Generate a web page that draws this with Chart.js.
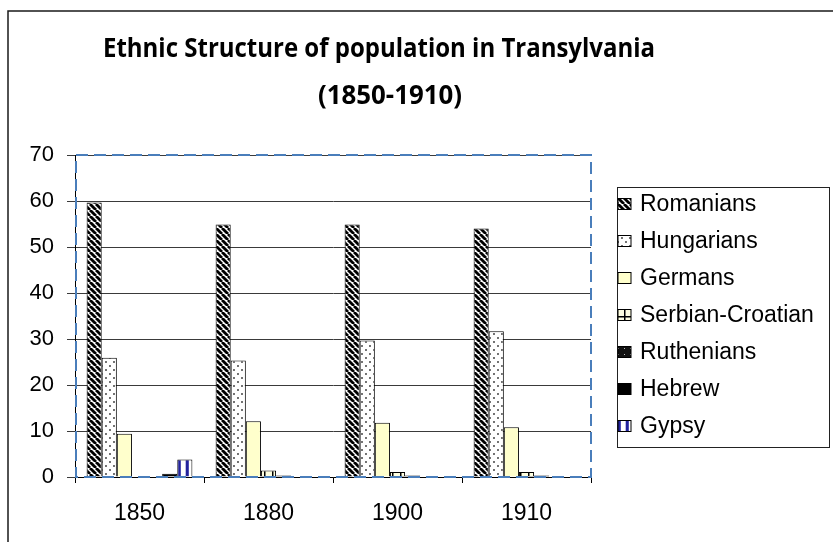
<!DOCTYPE html>
<html>
<head>
<meta charset="utf-8">
<script src="https://cdn.jsdelivr.net/npm/chart.js@4.4.1/dist/chart.umd.min.js"></script>
<style>
  html, body { margin: 0; padding: 0; background: #fff; overflow: hidden; }
  #wrap { position: relative; width: 833px; height: 542px; }
</style>
</head>
<body>
<div id="wrap"><canvas id="ethnicChart"></canvas></div>
<script>
// Data (percent of population)
const years = ['1850', '1880', '1900', '1910'];
const romanians = [59.7, 54.9, 54.9, 54.0];
const hungarians = [25.9, 25.3, 29.7, 31.7];
const germans = [9.4, 12.1, 11.8, 10.8];
const serbianCroatian = [0, 1.4, 1.1, 1.1];
const ruthenians = [0, 0.3, 0.3, 0.3];
const hebrew = [0.7, 0, 0, 0];
const gypsy = [3.8, 0, 0, 0];
const seriesNames = ['Romanians', 'Hungarians', 'Germans', 'Serbian-Croatian', 'Ruthenians', 'Hebrew', 'Gypsy'];
const titleLines = ['Ethnic Structure of population in Transylvania', '(1850-1910)'];
const yMax = 70;
const yStep = 10;

// Small tile patterns, like the old Excel fills
function makePattern(w, h, draw) {
  const c = document.createElement('canvas');
  c.width = w;
  c.height = h;
  const g = c.getContext('2d');
  draw(g, w, h);
  return g.createPattern(c, 'repeat');
}

const stripePattern = makePattern(6, 6, (g, w, h) => {
  g.fillStyle = '#fff';
  g.fillRect(0, 0, w, h);
  g.strokeStyle = '#000';
  g.lineWidth = 2.8;
  [-6, 0, 6].forEach(k => {
    g.beginPath();
    g.moveTo(k, 0);
    g.lineTo(k + 6, 6);
    g.stroke();
  });
});

const dotPattern = makePattern(8, 8, (g, w, h) => {
  g.fillStyle = '#fff';
  g.fillRect(0, 0, w, h);
  g.fillStyle = '#444';
  g.beginPath();
  g.arc(2, 2, 1, 0, Math.PI * 2);
  g.arc(6, 6, 1, 0, Math.PI * 2);
  g.fill();
});

const gridPattern = makePattern(8, 8, (g, w, h) => {
  g.fillStyle = '#ffffe0';
  g.fillRect(0, 0, w, h);
  g.fillStyle = '#000';
  g.fillRect(0, 0, 1.5, h);
  g.fillRect(0, 4, w, 1.5);
});

const darkPattern = makePattern(6, 6, (g, w, h) => {
  g.fillStyle = '#111';
  g.fillRect(0, 0, w, h);
  g.fillStyle = '#bbb';
  g.fillRect(0, 0, 1, 1);
});

const blueStripePattern = makePattern(8, 8, (g, w, h) => {
  g.fillStyle = '#fff';
  g.fillRect(0, 0, w, h);
  g.fillStyle = '#7a7acc';
  g.fillRect(1.5, 0, 3.5, h);
  g.fillStyle = '#22229c';
  g.fillRect(2, 0, 2.5, h);
});

const fills = [stripePattern, dotPattern, '#ffffcc', gridPattern, darkPattern, '#000', blueStripePattern];
const values = [romanians, hungarians, germans, serbianCroatian, ruthenians, hebrew, gypsy];

// Outer frame of the chart object (its right and bottom sides are cut off)
const framePlugin = {
  id: 'frame',
  beforeDraw(chart) {
    const ctx = chart.ctx;
    ctx.save();
    ctx.fillStyle = '#fff';
    ctx.fillRect(0, 0, chart.width, chart.height);
    ctx.strokeStyle = '#1a1a1a';
    ctx.lineWidth = 1.5;
    ctx.beginPath();
    ctx.moveTo(8, chart.height);
    ctx.lineTo(8, 11);
    ctx.lineTo(chart.width, 11);
    ctx.stroke();
    ctx.restore();
  }
};

// Dashed blue plot-area border
const plotBorderPlugin = {
  id: 'plotBorder',
  afterDatasetsDraw(chart) {
    const {ctx, chartArea: a} = chart;
    ctx.save();
    ctx.strokeStyle = '#4a7ebb';
    ctx.lineWidth = 2;
    ctx.setLineDash([12, 6]);
    ctx.strokeRect(a.left + 1, a.top, a.right - a.left - 1, a.bottom - a.top);
    ctx.restore();
  }
};

// Two-line bold title, positioned like the original
const titlePlugin = {
  id: 'titleLines',
  afterDraw(chart) {
    const ctx = chart.ctx;
    const spots = [{cx: 379, y: 57, w: 552}, {cx: 390, y: 104, w: 144}];
    ctx.save();
    ctx.fillStyle = '#000';
    ctx.font = 'bold 27px "Open Sans", "Noto Sans", sans-serif';
    ctx.textBaseline = 'alphabetic';
    ctx.textAlign = 'left';
    titleLines.forEach((line, i) => {
      const s = spots[i];
      const measured = ctx.measureText(line).width;
      const sx = Math.min(1, s.w / measured);
      ctx.save();
      ctx.translate(s.cx - s.w / 2, s.y);
      ctx.scale(sx, 1);
      ctx.fillText(line, 0, 0);
      ctx.restore();
    });
    ctx.restore();
  }
};

// Boxed legend on the right
const legendPlugin = {
  id: 'boxLegend',
  afterDraw(chart) {
    const ctx = chart.ctx;
    const box = {left: 617.5, top: 187.5, right: 829.5, bottom: 447.5};
    ctx.save();
    ctx.strokeStyle = '#222';
    ctx.lineWidth = 1;
    ctx.strokeRect(box.left, box.top, box.right - box.left, box.bottom - box.top);
    ctx.font = '23px "Liberation Sans", Arial, sans-serif';
    ctx.textBaseline = 'middle';
    ctx.textAlign = 'left';
    chart.data.datasets.forEach((ds, i) => {
      const cy = 204 + i * 37;
      ctx.fillStyle = ds.backgroundColor;
      ctx.fillRect(618, cy - 5.5, 13, 11);
      ctx.strokeStyle = '#000';
      ctx.strokeRect(618, cy - 5.5, 13, 11);
      ctx.fillStyle = '#000';
      ctx.fillText(ds.label, 640, cy + 1);
    });
    ctx.restore();
  }
};

const ctx = document.getElementById('ethnicChart').getContext('2d');
new Chart(ctx, {
  type: 'bar',
  data: {
    labels: years,
    datasets: seriesNames.map((name, i) => ({
      label: name,
      data: values[i],
      backgroundColor: fills[i],
      borderColor: '#000',
      borderWidth: 1,
      categoryPercentage: 0.82,
      barPercentage: 1.0
    }))
  },
  options: {
    responsive: true,
    maintainAspectRatio: false,
    animation: false,
    layout: {
      padding: {top: 155, right: 242, bottom: 15, left: 8}
    },
    plugins: {
      legend: {display: false},
      title: {display: false},
      tooltip: {enabled: false}
    },
    scales: {
      x: {
        offset: true,
        grid: {
          offset: true,
          drawOnChartArea: false,
          drawTicks: true,
          tickLength: 6,
          color: '#000'
        },
        border: {display: true, color: '#000', width: 1},
        ticks: {
          color: '#000',
          font: {family: '"Liberation Sans", Arial, sans-serif', size: 23},
          padding: 17,
          maxRotation: 0
        },
        afterFit: scale => { scale.height = 50; }
      },
      y: {
        min: 0,
        max: yMax,
        grid: {
          color: '#3a3a3a',
          lineWidth: 1,
          drawTicks: true,
          tickLength: 8
        },
        border: {display: true, color: '#000', width: 1},
        ticks: {
          stepSize: yStep,
          color: '#000',
          font: {family: '"Liberation Sans", Arial, sans-serif', size: 22},
          padding: 13
        },
        afterFit: scale => { scale.width = 67; }
      }
    }
  },
  plugins: [framePlugin, plotBorderPlugin, titlePlugin, legendPlugin]
});
</script>
</body>
</html>
